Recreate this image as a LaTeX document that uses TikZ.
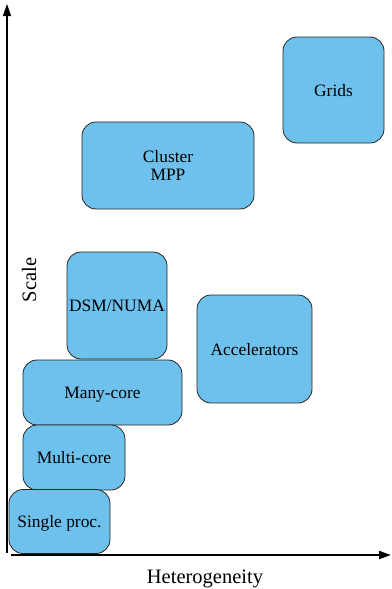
\documentclass[tikz,border=0pt]{standalone}
\usepackage{fontspec}
\setmainfont{Liberation Serif}
\usetikzlibrary{arrows.meta}
\definecolor{boxblue}{RGB}{110,193,236}
\tikzset{
  platform/.style={draw=black!85, line width=0.8pt, fill=boxblue, rounded corners=14pt,
    inner sep=0pt, align=center, text depth=0pt, font=\fontsize{17.4}{18.5}\selectfont},
  axis/.style={-{Triangle[length=12pt,width=8pt]}, black},
  axislabel/.style={font=\fontsize{20.5}{24}\selectfont, inner sep=0pt}
}
\begin{document}
\begin{tikzpicture}[x=1pt, y=-1pt]
  \useasboundingbox (0,0) rectangle (391,589);

  % axes
  \coordinate (vbase) at (7,553);
  \coordinate (vtop) at (7,4);
  \coordinate (hbase) at (11,555);
  \coordinate (hend) at (391,555);
  \draw[axis, line width=1.3pt] (vbase) -- (vtop);
  \draw[axis, line width=2pt] (hbase) -- (hend);

  \node[axislabel, rotate=90] (scale) at (29,280) {Scale};
  \node[axislabel] (het) at (205,578.5) {Heterogeneity};

  % platform classes
  \node[platform, minimum width=101pt, minimum height=106pt] (grids) at (333.5,90) {Grids};
  \node[platform, minimum width=172pt, minimum height=87pt] (cluster) at (168,165.5) {Cluster\\MPP};
  \node[platform, minimum width=100pt, minimum height=107pt] (dsm) at (117,305.5) {DSM/NUMA};
  \node[platform, minimum width=115pt, minimum height=108pt] (acc) at (254.5,349) {Accelerators};
  \node[platform, minimum width=159pt, minimum height=65pt] (many) at (102.5,392.5) {Many-core};
  \node[platform, minimum width=102pt, minimum height=65pt] (multi) at (74,457.5) {Multi-core};
  \node[platform, minimum width=101pt, minimum height=64pt] (single) at (59.5,521.5) {Single proc.};
\end{tikzpicture}
\end{document}
